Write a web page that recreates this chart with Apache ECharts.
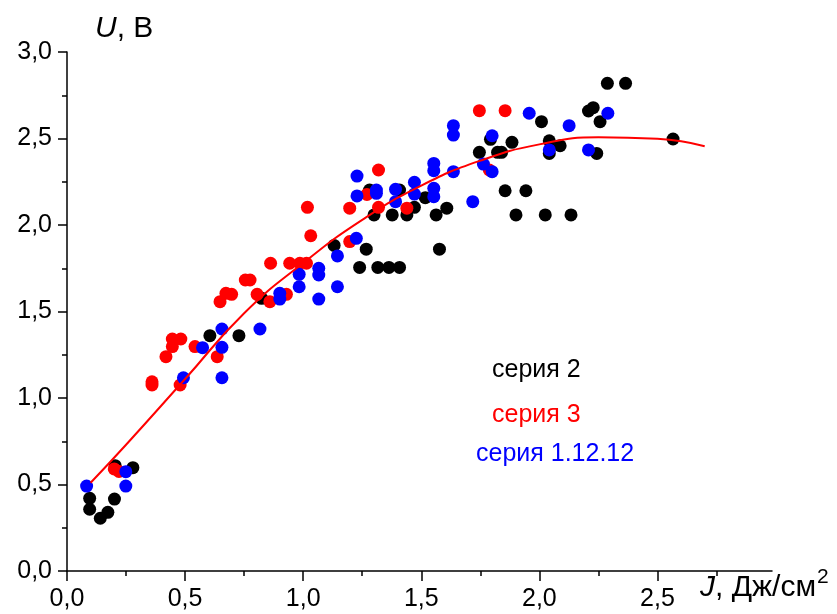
<!DOCTYPE html>
<html>
<head>
<meta charset="utf-8">
<script src="https://cdn.jsdelivr.net/npm/echarts@6/dist/echarts.min.js"></script>
<style>
html,body{margin:0;padding:0;background:#fff;}
#chart{width:837px;height:614px;}
</style>
</head>
<body>
<div id="chart"></div>
<script>
// ---- data ----
var xMajorTicks = [0, 0.5, 1.0, 1.5, 2.0, 2.5];
var xMinorTicks = [0.25, 0.75, 1.25, 1.75, 2.25, 2.75];
var seriesNames = ['серия 2', 'серия 3', 'серия 1.12.12'];

var seria2 = [
  [0.096,0.42],[0.096,0.357],[0.141,0.305],[0.173,0.339],[0.201,0.416],[0.204,0.609],[0.279,0.597],
  [0.605,1.36],[0.728,1.36],[0.824,1.576],
  [1.131,1.882],[1.267,1.86],[1.239,1.755],[1.316,1.755],[1.363,1.755],[1.408,1.755],
  [1.281,2.202],[1.300,2.058],[1.377,2.058],[1.408,2.202],[1.439,2.058],[1.471,2.102],[1.517,2.158],
  [1.563,2.058],[1.608,2.097],[1.577,1.86],
  [1.746,2.42],[1.823,2.42],[1.840,2.42],[1.793,2.495],[1.884,2.478],[1.855,2.198],[1.943,2.198],
  [1.901,2.058],[2.025,2.058],[2.134,2.058],
  [2.009,2.597],[2.042,2.487],[2.088,2.458],[2.042,2.414],[2.243,2.414],[2.208,2.659],[2.228,2.678],
  [2.257,2.597],[2.288,2.819],[2.365,2.819],[2.566,2.497]
];

var seria3 = [
  [0.200,0.59],[0.220,0.575],[0.360,1.094],[0.360,1.075],[0.419,1.239],[0.446,1.297],[0.446,1.341],
  [0.482,1.341],[0.479,1.075],[0.542,1.297],[0.636,1.239],[0.648,1.557],[0.673,1.605],[0.697,1.599],
  [0.755,1.682],[0.775,1.682],[0.805,1.599],[0.859,1.557],[0.862,1.779],[0.929,1.599],[0.943,1.779],
  [0.986,1.779],[1.014,1.779],[1.018,2.102],[1.032,1.938],[1.197,2.097],[1.197,1.904],[1.270,2.177],
  [1.319,2.318],[1.319,2.102],[1.439,2.097],[1.746,2.661],[1.855,2.661],[1.788,2.318]
];

var seria1 = [
  [0.083,0.491],[0.249,0.574],[0.249,0.491],[0.493,1.117],[0.574,1.291],[0.656,1.399],[0.656,1.293],
  [0.656,1.117],[0.817,1.399],[0.901,1.605],[0.901,1.572],[0.983,1.715],[0.983,1.643],[1.066,1.75],
  [1.066,1.711],[1.066,1.572],[1.145,1.821],[1.145,1.643],[1.225,1.923],[1.228,2.283],[1.228,2.168],
  [1.310,2.202],[1.310,2.183],[1.391,2.206],[1.391,2.135],[1.471,2.247],[1.471,2.179],[1.553,2.356],
  [1.553,2.314],[1.553,2.212],[1.553,2.164],[1.636,2.574],[1.636,2.52],[1.636,2.308],[1.718,2.135],
  [1.763,2.352],[1.800,2.308],[1.800,2.516],[1.957,2.646],[2.042,2.434],[2.126,2.574],[2.208,2.434],
  [2.290,2.646]
];

var fitX = [0.1, 0.25, 0.5, 0.75, 1.0, 1.25, 1.5, 1.75, 2.0, 2.25, 2.5, 2.7];
var fitY = [0.51, 0.73, 1.11, 1.49, 1.78, 2.03, 2.228, 2.372, 2.466, 2.507, 2.498, 2.455];

// ---- chart ----
var FONT = 'Liberation Sans, Arial, sans-serif';
var fmt = function (v) { return (Math.round(v * 10) / 10).toFixed(1).replace('.', ','); };
var fitData = fitX.map(function (x, i) { return [x, fitY[i]]; });

var chart = echarts.init(document.getElementById('chart'), null, {renderer: 'canvas'});
chart.setOption({
  animation: false,
  backgroundColor: '#ffffff',
  grid: {left: 67, right: 65, top: 52, bottom: 43, containLabel: false, outerBoundsMode: 'none'},
  xAxis: [{
    type: 'value', min: 0, max: 2.985, interval: 0.5,
    axisLine: {show: true, onZero: false, lineStyle: {color: '#000', width: 1.5}},
    axisTick: {show: true, inside: false, length: 10, customValues: xMajorTicks, lineStyle: {color: '#000', width: 1.5}},
    axisLabel: {show: true, margin: 16, customValues: xMajorTicks, formatter: fmt, color: '#000', fontSize: 25, fontFamily: FONT},
    splitLine: {show: false}
  }, {
    type: 'value', min: 0, max: 2.985, position: 'bottom',
    axisLine: {show: false, onZero: false},
    axisTick: {show: true, inside: false, length: 5, customValues: xMinorTicks, lineStyle: {color: '#000', width: 1.5}},
    axisLabel: {show: false},
    splitLine: {show: false}
  }],
  yAxis: {
    type: 'value', min: 0, max: 3, interval: 0.5,
    axisLine: {show: true, onZero: false, lineStyle: {color: '#000', width: 1.5}},
    axisTick: {show: true, inside: false, length: 9, lineStyle: {color: '#000', width: 1.5}},
    minorTick: {show: true, splitNumber: 2, length: 5, lineStyle: {color: '#000', width: 1.5}},
    axisLabel: {show: true, margin: 15, formatter: fmt, color: '#000', fontSize: 25, fontFamily: FONT},
    splitLine: {show: false}
  },
  series: [
    {name: seriesNames[0], type: 'scatter', data: seria2, symbol: 'circle', symbolSize: 13,
     itemStyle: {color: '#000000', opacity: 1}, z: 2},
    {name: seriesNames[1], type: 'scatter', data: seria3, symbol: 'circle', symbolSize: 13,
     itemStyle: {color: '#ff0000', opacity: 1}, z: 3},
    {name: seriesNames[2], type: 'scatter', data: seria1, symbol: 'circle', symbolSize: 13,
     itemStyle: {color: '#0000ff', opacity: 1}, z: 4},
    {name: 'fit', type: 'line', data: fitData, smooth: 0.5, showSymbol: false, symbol: 'none',
     lineStyle: {color: '#ff0000', width: 2}, z: 5}
  ],
  graphic: [
    {type: 'text', left: 95, top: 14, z: 10, style: {
      text: '{i|U}{n|, В}', fill: '#000',
      rich: {i: {fontSize: 30, fontStyle: 'italic', fontFamily: FONT, fill: '#000'},
             n: {fontSize: 30, fontFamily: FONT, fill: '#000'}}}},
    {type: 'text', left: 700, top: 567, z: 10, style: {
      text: '{i|J}{n|, Дж/см}{s|2}', fill: '#000',
      rich: {i: {fontSize: 30, fontStyle: 'italic', fontFamily: FONT, fill: '#000', verticalAlign: 'bottom'},
             n: {fontSize: 30, fontFamily: FONT, fill: '#000', verticalAlign: 'bottom'},
             s: {fontSize: 21, fontFamily: FONT, fill: '#000', verticalAlign: 'bottom', padding: [0, 0, 15, 1]}}}},
    {type: 'text', left: 492, top: 358, z: 10, style: {text: seriesNames[0], fill: '#000000', fontSize: 25, fontFamily: FONT}},
    {type: 'text', left: 492, top: 403, z: 10, style: {text: seriesNames[1], fill: '#ff0000', fontSize: 25, fontFamily: FONT}},
    {type: 'text', left: 476, top: 442, z: 10, style: {text: seriesNames[2], fill: '#0000ff', fontSize: 25, fontFamily: FONT}}
  ]
});
</script>
</body>
</html>
